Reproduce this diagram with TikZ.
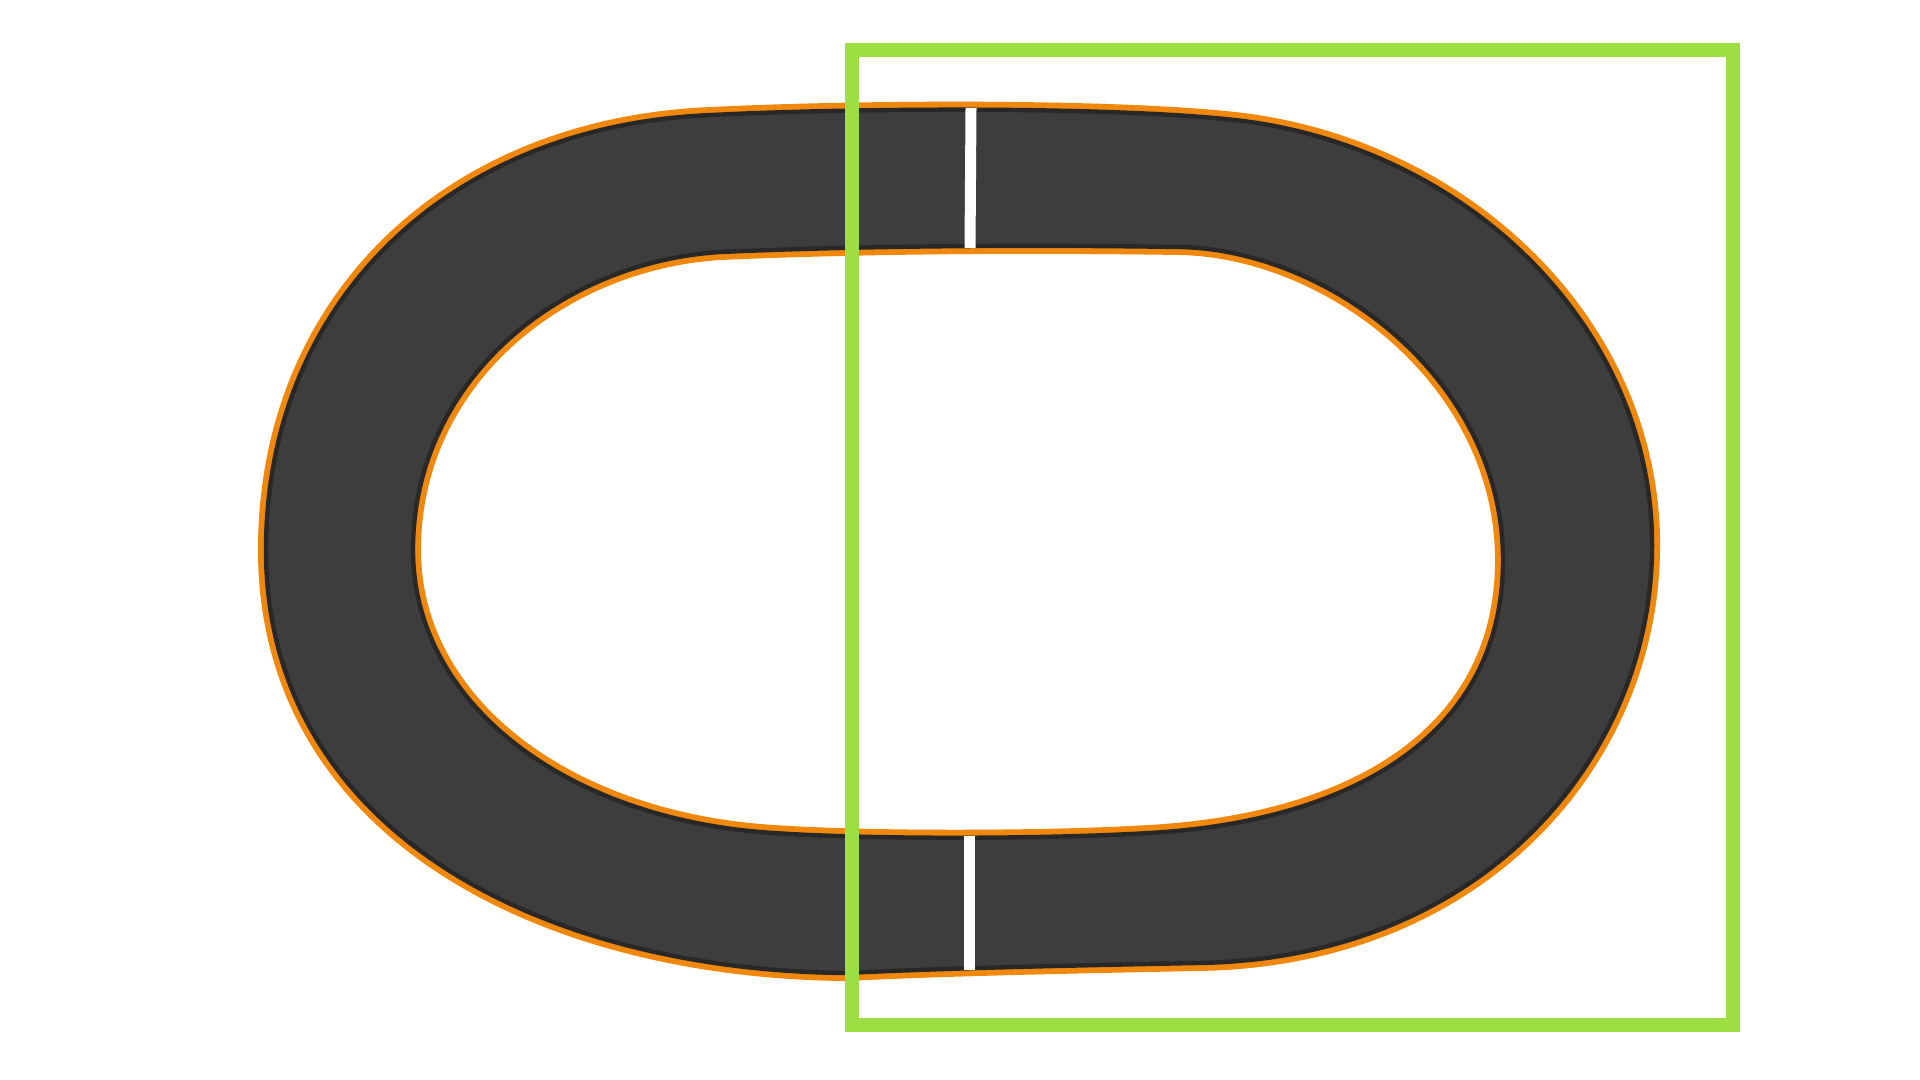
\documentclass[tikz,border=0pt]{standalone}
\definecolor{trackfill}{RGB}{61,61,61}
\definecolor{trackedge}{RGB}{40,40,40}
\definecolor{trackorange}{RGB}{240,136,14}
\definecolor{boxgreen}{RGB}{157,222,67}
\tikzset{
  orangeedge/.style={draw=trackorange, line width=8pt, line join=round},
  trackbody/.style={fill=trackfill, draw=trackedge, line width=2.2pt, line join=round, even odd rule},
  whitemark/.style={draw=white, line width=5.5pt},
  greenbox/.style={draw=boxgreen, line width=7pt}
}
\def\trackpath{%
  (712,115) .. controls (850,108) and (1120,106) .. (1243,121)
  .. controls (1470,150) and (1655,330) .. (1652,550)
  .. controls (1650,760) and (1480,960) .. (1196,963)
  .. controls (1050,966) and (950,968) .. (845,973)
  .. controls (540,970) and (266,830) .. (266,550)
  .. controls (266,300) and (450,125) .. (712,115) -- cycle
  (720,252) .. controls (880,245) and (1050,245) .. (1180,247)
  .. controls (1330,250) and (1503,380) .. (1503,560)
  .. controls (1503,740) and (1345,822) .. (1149,833)
  .. controls (1050,839) and (860,840) .. (760,832)
  .. controls (560,815) and (413,700) .. (413,550)
  .. controls (413,380) and (560,262) .. (720,252) -- cycle}
\begin{document}
\begin{tikzpicture}[x=0.5pt,y=-0.5pt]
  \useasboundingbox (0,0) rectangle (1920,1080);
  % orange rims
  \path[orangeedge] \trackpath;
  % track surface
  \path[trackbody] \trackpath;
  % start / finish marks
  \coordinate (topout) at (971,108);
  \coordinate (topin) at (970,248);
  \coordinate (botin) at (969,836);
  \coordinate (botout) at (969,970);
  \draw[whitemark] (topout) -- (topin);
  \draw[whitemark] (botin) -- (botout);
  % green frame
  \coordinate (gA) at (852,50);
  \coordinate (gB) at (1733,1025);
  \draw[greenbox] (gA) rectangle (gB);
\end{tikzpicture}
\end{document}
